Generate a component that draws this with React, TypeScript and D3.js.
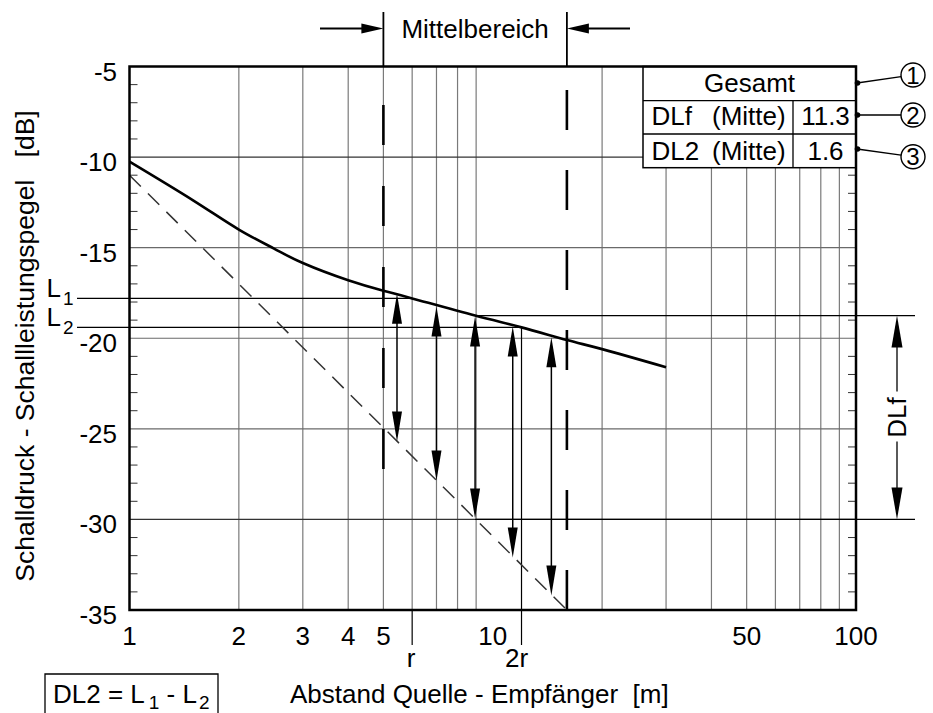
import React from 'react';
import * as d3 from 'd3';

// ---- data ----
const curveX = [1, 1.5, 2, 2.5, 3, 4, 5, 6, 8.94, 12, 16, 20, 30];
const curveL = [-10.25, -12.4, -14.0, -15.05, -15.85, -16.8, -17.38, -17.8, -18.75, -19.4, -20.1, -20.6, -21.6];
const refX = [1, 16];
const refL = [-11, -35];
const arrowX = [5.45, 7, 8.94, 11.35, 14.5];
const arrowTop = [-17.55, -18.25, -18.8, -19.35, -19.95];
const arrowBottom = [-25.7, -27.85, -29.95, -32.1, -34.2];
const xTickValues = [1, 2, 3, 4, 5, 10, 50, 100];
const yTickValues = [-5, -10, -15, -20, -25, -30, -35];
const xGridValues = [2, 3, 4, 5, 6, 7, 8, 9, 20, 30, 40, 50, 60, 70, 80, 90];
const midRange = [5, 16];
const rValues = [6, 12];
const rLabels = ['r', '2r'];
const levelL = [-17.8, -19.4];
const levelLabels = ['1', '2'];
const dlfX = 8.94;
const dlfLevels = [-18.75, -30];
const tableNames = ['DLf', 'DL2'];
const tableValues = ['11.3', '1.6'];
const circleLabels = ['1', '2', '3'];

const W = 933, H = 713;
const FONT = "'Liberation Sans', Arial, Helvetica, sans-serif";
const FS = 26;

const x = d3.scaleLog().domain([1, 100]).range([129.5, 856]);
const y = d3.scaleLinear().domain([-35, -5]).range([610, 66.5]);

function VArrow({ px, top, bottom, len = 30, hw = 5 }: { px: number; top: number; bottom: number; len?: number; hw?: number }) {
  return (
    <g>
      <line x1={px} x2={px} y1={top + len - 2} y2={bottom - len + 2} stroke="#000" strokeWidth={1.5} />
      <polygon points={`${px},${top} ${px - hw},${top + len} ${px + hw},${top + len}`} fill="#000" />
      <polygon points={`${px},${bottom} ${px - hw},${bottom - len} ${px + hw},${bottom - len}`} fill="#000" />
    </g>
  );
}

export default function App() {
  const x0 = x(1), x1 = x(100), y0 = y(-5), y1 = y(-35);
  const curvePts: [number, number][] = curveX.map((v, i) => [v, curveL[i]]);
  const line = d3.line<[number, number]>().x(d => x(d[0])).y(d => y(d[1])).curve(d3.curveNatural);
  const refPts: [number, number][] = refX.map((v, i) => [v, refL[i]]);
  const refLine = d3.line<[number, number]>().x(d => x(d[0])).y(d => y(d[1]));

  const minor = d3.range(-34, -5).filter(v => v % 5 !== 0);

  const tL = 643, tR = x1, rowY = [y0, 100.7, 134, 167.7], colX = 793;
  const circleY = [75, 115, 156.7];
  const dotY = [83, 115, 149];
  const cX = 913, cR = 12;
  const dlfArrowX = 897;
  const dTop = y(dlfLevels[0]), dBot = y(dlfLevels[1]);
  const dMid = (dTop + dBot) / 2;

  return (
    <svg width={W} height={H} style={{ position: 'absolute', left: 0, top: 0, background: '#fff' }} fontFamily={FONT}>
      <rect x={0} y={0} width={W} height={H} fill="#fff" />
      {/* grid */}
      {xGridValues.map(v => (
        <line key={'gx' + v} x1={x(v)} x2={x(v)} y1={y0} y2={y1} stroke="#7a7a7a" strokeWidth={1.2} />
      ))}
      {yTickValues.filter(v => v !== -5 && v !== -35).map(v => (
        <line key={'gy' + v} x1={x0} x2={x1} y1={y(v)} y2={y(v)} stroke={v === -10 || v === -30 ? '#333' : '#6a6a6a'} strokeWidth={1.2} />
      ))}
      {minor.map(v => (
        <g key={'m' + v}>
          <line x1={x0} x2={x0 + 8} y1={y(v)} y2={y(v)} stroke="#333" strokeWidth={1} />
          <line x1={x1 - 8} x2={x1} y1={y(v)} y2={y(v)} stroke="#333" strokeWidth={1} />
        </g>
      ))}

      {/* table */}
      <rect x={tL} y={rowY[0]} width={tR - tL} height={rowY[3] - rowY[0]} fill="#fff" stroke="#000" strokeWidth={1.5} />
      <line x1={tL} x2={tR} y1={rowY[1]} y2={rowY[1]} stroke="#000" strokeWidth={1.3} />
      <line x1={tL} x2={tR} y1={rowY[2]} y2={rowY[2]} stroke="#000" strokeWidth={1.3} />
      <line x1={colX} x2={colX} y1={rowY[1]} y2={rowY[3]} stroke="#000" strokeWidth={1.3} />
      <text x={(tL + tR) / 2} y={92} fontSize={FS} textAnchor="middle">Gesamt</text>
      {tableNames.map((n, i) => (
        <g key={'tr' + i}>
          <text x={651.5} y={125 + i * 34.5} fontSize={FS}>{n}</text>
          <text x={712} y={125 + i * 34.5} fontSize={FS}>(Mitte)</text>
          <text x={(colX + tR) / 2 + 1} y={125 + i * 34.5} fontSize={FS} textAnchor="middle">{tableValues[i]}</text>
        </g>
      ))}
      {circleLabels.map((c, i) => {
        const dx = cX - (tR + 1), dy = circleY[i] - dotY[i];
        const d = Math.hypot(dx, dy);
        return (
          <g key={'c' + i}>
            <line x1={tR + 1} y1={dotY[i]} x2={cX - dx / d * cR} y2={circleY[i] - dy / d * cR} stroke="#000" strokeWidth={1.3} />
            <circle cx={tR + 1.5} cy={dotY[i]} r={2.8} fill="#000" />
            <circle cx={cX} cy={circleY[i]} r={cR} fill="#fff" stroke="#000" strokeWidth={1.4} />
            <text x={cX} y={circleY[i] + 8.5} fontSize={24} textAnchor="middle">{c}</text>
          </g>
        );
      })}

      {/* level lines L1 / L2 */}
      {levelL.map((v, i) => (
        <g key={'L' + i}>
          <line x1={77} x2={x(rValues[i])} y1={y(v)} y2={y(v)} stroke="#000" strokeWidth={1.3} />
          <text x={46.5} y={y(v) - 1} fontSize={FS}>L<tspan fontSize={19} dx={2} dy={8}>{levelLabels[i]}</tspan></text>
        </g>
      ))}

      {/* DLf lines */}
      <line x1={x(dlfX)} x2={915} y1={dTop} y2={dTop} stroke="#000" strokeWidth={1.3} />
      <line x1={x(dlfX)} x2={915} y1={dBot} y2={dBot} stroke="#000" strokeWidth={1.3} />
      <line x1={dlfArrowX} x2={dlfArrowX} y1={dTop + 25} y2={dMid - 26} stroke="#000" strokeWidth={1.3} />
      <line x1={dlfArrowX} x2={dlfArrowX} y1={dMid + 24} y2={dBot - 25} stroke="#000" strokeWidth={1.3} />
      <polygon points={`${dlfArrowX},${dTop} ${dlfArrowX - 5.5},${dTop + 32} ${dlfArrowX + 5.5},${dTop + 32}`} fill="#000" />
      <polygon points={`${dlfArrowX},${dBot} ${dlfArrowX - 5.5},${dBot - 32} ${dlfArrowX + 5.5},${dBot - 32}`} fill="#000" />
      <text transform={`translate(${dlfArrowX + 9},${dMid}) rotate(-90)`} fontSize={FS} textAnchor="middle">DLf</text>

      {/* r, 2r markers */}
      {rValues.map((v, i) => (
        <g key={'r' + i}>
          {i === 1 && <line x1={x(v)} x2={x(v)} y1={y(levelL[i])} y2={y1} stroke="#000" strokeWidth={1.2} />}
          <line x1={x(v)} x2={x(v)} y1={y1} y2={645} stroke="#000" strokeWidth={1.2} />
          <text x={x(v) - (i === 0 ? 1 : 5)} y={667} fontSize={FS} textAnchor="middle">{rLabels[i]}</text>
        </g>
      ))}

      {/* reference dashed line */}
      <path d={refLine(refPts) || ''} fill="none" stroke="#333" strokeWidth={1.5} strokeDasharray="16 10" />
      {/* main curve */}
      <path d={line(curvePts) || ''} fill="none" stroke="#000" strokeWidth={2.6} />

      {/* arrows */}
      {arrowX.map((v, i) => (
        <VArrow key={'a' + i} px={x(v)} top={y(arrowTop[i])} bottom={y(arrowBottom[i])} />
      ))}

      {/* Mittelbereich boundaries */}
      <line x1={x(midRange[0])} x2={x(midRange[0])} y1={12} y2={y0} stroke="#000" strokeWidth={1.8} />
      <line x1={x(midRange[1])} x2={x(midRange[1])} y1={12} y2={y0} stroke="#000" strokeWidth={1.8} />
      <line x1={x(midRange[0])} x2={x(midRange[0])} y1={105} y2={480} stroke="#000" strokeWidth={2.6} strokeDasharray="40 41" />
      <line x1={x(midRange[1])} x2={x(midRange[1])} y1={90} y2={610} stroke="#000" strokeWidth={2.6} strokeDasharray="40 40" />
      <line x1={320} x2={x(midRange[0]) - 18} y1={28.5} y2={28.5} stroke="#000" strokeWidth={1.8} />
      <polygon points={`${x(midRange[0])},28.5 ${x(midRange[0]) - 22},23.5 ${x(midRange[0]) - 22},33.5`} fill="#000" />
      <line x1={x(midRange[1]) + 18} x2={630} y1={28.5} y2={28.5} stroke="#000" strokeWidth={1.8} />
      <polygon points={`${x(midRange[1])},28.5 ${x(midRange[1]) + 22},23.5 ${x(midRange[1]) + 22},33.5`} fill="#000" />
      <text x={(x(midRange[0]) + x(midRange[1])) / 2} y={37.5} fontSize={FS} textAnchor="middle">Mittelbereich</text>

      {/* frame */}
      <rect x={x0} y={y0} width={x1 - x0} height={y1 - y0} fill="none" stroke="#000" strokeWidth={2.5} />

      {/* tick labels */}
      {yTickValues.map(v => (
        <text key={'yt' + v} x={117} y={y(v) + 14} fontSize={FS} textAnchor="end">{v}</text>
      ))}
      {xTickValues.map(v => (
        <text key={'xt' + v} x={x(v)} y={645} fontSize={FS} textAnchor="middle">{v}</text>
      ))}

      {/* axis titles */}
      <text x={290} y={703} fontSize={FS} style={{ whiteSpace: 'pre' }}>Abstand Quelle - Empfänger  [m]</text>
      <text transform={`translate(33.5,346) rotate(-90)`} fontSize={26.5} textAnchor="middle" style={{ whiteSpace: 'pre' }}>Schalldruck - Schallleistungspegel   [dB]</text>

      {/* DL2 formula box */}
      <path d={`M45,${H + 2} L45,674 L218,674 L218,${H + 2}`} fill="none" stroke="#000" strokeWidth={1.3} />
      <text x={53} y={703} fontSize={FS} style={{ whiteSpace: 'pre' }}>
        DL2 = L<tspan fontSize={19} dx={4} dy={6}>1</tspan><tspan dy={-6}> - L</tspan><tspan fontSize={19} dx={2} dy={6}>2</tspan>
      </text>
    </svg>
  );
}
